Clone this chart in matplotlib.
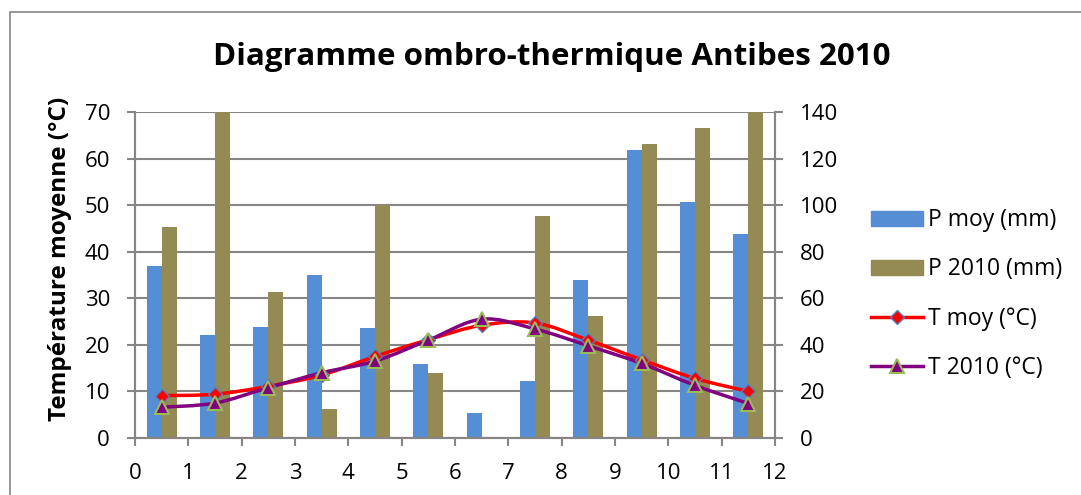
import numpy as np
import matplotlib
matplotlib.use('Agg')
import matplotlib.pyplot as plt
from matplotlib.path import Path
from matplotlib.patches import PathPatch, Rectangle, Patch
from matplotlib.lines import Line2D

# Monthly values (months plotted at 0.5, 1.5, ..., 11.5)

months = np.arange(12) + 0.5
p_moy = [73.7, 44.1, 47.8, 70.0, 47.2, 31.8, 10.9, 24.3, 67.8, 123.7, 101.3, 87.5]
p_2010 = [90.8, 150.0, 62.6, 12.6, 100.0, 27.9, 0.0, 95.2, 52.4, 126.1, 133.0, 141.0]
t_moy = [9.1, 9.4, 11.1, 13.5, 17.5, 21.1, 24.2, 24.7, 21.0, 16.8, 12.8, 10.0]
t_2010 = [6.6, 7.5, 10.8, 14.0, 16.5, 21.0, 25.5, 23.4, 19.8, 16.0, 11.3, 7.4]

x_ticks = range(13)
t_ticks = range(0, 71, 10)
p_ticks = range(0, 141, 20)

blue = '#558ed5'
olive = '#948a54'
grey = '#868686'
font = 'Open Sans'
plt.rcParams['font.family'] = font


def smooth_path(x, y):
    # Excel style smoothed line: cubic Bezier segments through every point
    pts = np.column_stack([x, y])
    ext = np.vstack([pts[0], pts, pts[-1]])
    verts = [pts[0]]
    codes = [Path.MOVETO]
    for i in range(1, len(ext) - 2):
        p0, p1, p2, p3 = ext[i - 1], ext[i], ext[i + 1], ext[i + 2]
        verts += [p1 + (p2 - p0) / 6, p2 - (p3 - p1) / 6, p2]
        codes += [Path.CURVE4] * 3
    return Path(verts, codes)


fig = plt.figure(figsize=(10.81, 4.95), dpi=100)

# outer chart frame
fig.patches.append(Rectangle((10 / 1081, -0.2), 1.2, 1.2 - 12 / 495,
                             transform=fig.transFigure, fill=False,
                             edgecolor=grey, linewidth=1.2))

ax = fig.add_axes([0.1249, 0.1152, 0.592, 0.6586])
ax2 = ax.twinx()

# precipitation bars on the right axis
w = 0.28
ax2.bar(months - w / 2, p_moy, width=w, color=blue, label='P moy (mm)')
ax2.bar(months + w / 2, p_2010, width=w, color=olive, label='P 2010 (mm)')
ax2.set_ylim(0, 140)
ax2.set_yticks(p_ticks)
ax2.set_axisbelow(True)
ax2.yaxis.grid(True, color=grey, linewidth=1.5)

# temperatures on the left axis, drawn above the bars
ax.set_zorder(ax2.get_zorder() + 1)
ax.patch.set_visible(False)
ax.add_patch(PathPatch(smooth_path(months, t_moy), fill=False,
                       edgecolor='#ff0000', linewidth=2.5))
ax.add_patch(PathPatch(smooth_path(months, t_2010), fill=False,
                       edgecolor='#800080', linewidth=2.5))
ax.plot(months, t_moy, linestyle='none', marker='D', markersize=7,
        markerfacecolor='#ff0000', markeredgecolor='#4f81bd', markeredgewidth=1)
ax.plot(months, t_2010, linestyle='none', marker='^', markersize=10,
        markerfacecolor='#800080', markeredgecolor='#9bbb59', markeredgewidth=1.5)

ax.set_xlim(0, 12)
ax.set_ylim(0, 70)
ax.set_xticks(x_ticks)
ax.set_yticks(t_ticks)

for a in (ax, ax2):
    for s in a.spines.values():
        s.set_color(grey)
        s.set_linewidth(1.5)
    a.spines['top'].set_visible(False)
    a.tick_params(colors=grey, labelcolor='black', labelsize=16,
                  length=6, width=1.5, pad=12)
ax.tick_params(axis='x', pad=12)

ax.set_ylabel('Température moyenne (°C)', fontsize=17.5, fontweight='bold')
ax.yaxis.set_label_coords(-0.099, 0.55)

fig.text(0.51, 0.884, 'Diagramme ombro-thermique Antibes 2010',
         ha='center', va='center', fontsize=22.6, fontweight='bold')

handles = [Patch(color=blue), Patch(color=olive),
           Line2D([], [], color='#ff0000', linewidth=2.5, marker='D', markersize=7,
                  markerfacecolor='#ff0000', markeredgecolor='#4f81bd'),
           Line2D([], [], color='#800080', linewidth=2.5, marker='^', markersize=10,
                  markerfacecolor='#800080', markeredgecolor='#9bbb59', markeredgewidth=1.5)]
labels = ['P moy (mm)', 'P 2010 (mm)', 'T moy (°C)', 'T 2010 (°C)']
fig.legend(handles, labels, loc='center left', bbox_to_anchor=(0.806, 0.406),
           frameon=False, fontsize=16.5, handlelength=2.27, handleheight=0.65,
           handletextpad=0.22, labelspacing=1.1, borderaxespad=0, borderpad=0)

fig.savefig('out.png', dpi=100)
